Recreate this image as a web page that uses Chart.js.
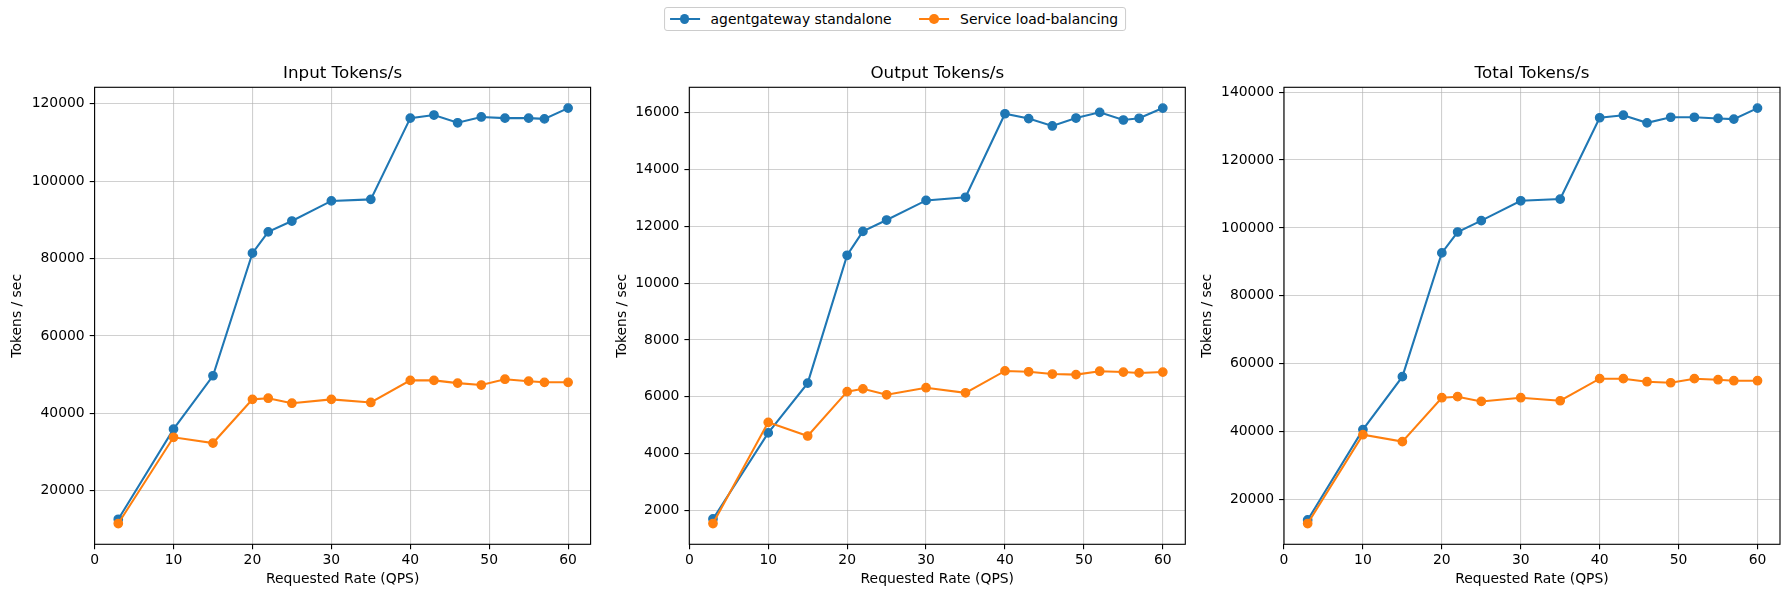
<!DOCTYPE html>
<html>
<head>
<meta charset="utf-8">
<title>Tokens/s vs requested rate</title>
<script src="https://cdn.jsdelivr.net/npm/chart.js@4.4.1/dist/chart.umd.min.js"></script>
<style>
    html, body { margin: 0; padding: 0; background: #fff; }
    #figure { position: relative; width: 1790px; height: 598px; overflow: hidden; }
    #figure canvas { position: absolute; left: 0; top: 0; }
    .legend {
        position: absolute; top: 7.3px; left: 50%; transform: translateX(-50%);
        height: 24px; box-sizing: border-box; padding: 0 6.8px 0 4.5px;
        border: 1px solid #cccccc; border-radius: 3px; background: #fff;
        display: flex; align-items: center; gap: 27.5px;
        font-family: "DejaVu Sans", sans-serif; font-size: 13.9px; color: #000;
        white-space: nowrap; z-index: 5;
    }
    .legend .item { display: flex; align-items: center; gap: 11px; }
    .legend .handle { position: relative; width: 30px; height: 10px; }
    .legend .handle::before {
        content: ''; position: absolute; left: 0; right: 0; top: 50%;
        height: 2.08px; margin-top: -1.04px; background: var(--c);
    }
    .legend .handle::after {
        content: ''; position: absolute; left: 50%; top: 50%;
        width: 9.7px; height: 9.7px; margin: -4.85px 0 0 -4.85px;
        border-radius: 50%; background: var(--c);
    }
</style>
</head>
<body>
<div id="figure">
    <div class="legend" id="legend"></div>
    <canvas id="inputChart" width="1790" height="598"></canvas>
    <canvas id="outputChart" width="1790" height="598"></canvas>
    <canvas id="totalChart" width="1790" height="598"></canvas>
</div>
<script>
// Data
const qps = [3, 10, 15, 20, 22, 25, 30, 35, 40, 43, 46, 49, 52, 55, 57, 60];
const seriesNames = ['agentgateway standalone', 'Service load-balancing'];

const inputStandalone = [12600, 35900, 49700, 81400, 86900, 89700, 94900, 95300, 116300, 117100, 115100, 116600, 116300, 116300, 116100, 118900];
const inputLoadBalanced = [11500, 33800, 32300, 43600, 43900, 42600, 43600, 42800, 48500, 48500, 47800, 47300, 48800, 48300, 48000, 48000];

const outputStandalone = [1700, 4730, 6480, 10980, 11820, 12220, 12910, 13020, 15960, 15790, 15530, 15810, 16010, 15740, 15800, 16160];
const outputLoadBalanced = [1540, 5100, 4620, 6180, 6280, 6070, 6320, 6140, 6910, 6880, 6800, 6780, 6900, 6870, 6840, 6870];

const totalStandalone = [14000, 40600, 56200, 92650, 98800, 102150, 108000, 108500, 132450, 133200, 130950, 132600, 132600, 132250, 132050, 135300];
const totalLoadBalanced = [12940, 39100, 37060, 50000, 50300, 48900, 50000, 49100, 55600, 55600, 54700, 54400, 55600, 55300, 55000, 55000];

const xTicks = [0, 10, 20, 30, 40, 50, 60];
const inputTicks = [20000, 40000, 60000, 80000, 100000, 120000];
const outputTicks = [2000, 4000, 6000, 8000, 10000, 12000, 14000, 16000];
const totalTicks = [20000, 40000, 60000, 80000, 100000, 120000, 140000];

const panelTitles = ['Input Tokens/s', 'Output Tokens/s', 'Total Tokens/s'];
const xLabel = 'Requested Rate (QPS)';
const yLabel = 'Tokens / sec';

// Styling / layout (matplotlib look)
const COLORS = ['#1f77b4', '#ff7f0e'];
const FIG_W = 1790, FIG_H = 598;
const PLOT_TOP = 87.3, PLOT_BOTTOM = 544.3, PLOT_W = 496;
const Y_AXIS_W = 90;
const GRID = 'rgba(176, 176, 176, 0.6)';
const TICK_FONT = { family: "'DejaVu Sans', sans-serif", size: 13.9 };
const TITLE_FONT = { family: "'DejaVu Sans', sans-serif", size: 16.7, weight: 'normal' };

Chart.defaults.font.family = "'DejaVu Sans', sans-serif";
Chart.defaults.color = '#000';

// matplotlib-like 5% auto margins
function paddedRange(values) {
    const lo = Math.min(...values), hi = Math.max(...values);
    const pad = (hi - lo) * 0.05;
    return { min: lo - pad, max: hi + pad };
}

const framePlugin = {
    id: 'frame',
    afterDraw(chart) {
        const { ctx, chartArea: a } = chart;
        ctx.save();
        ctx.strokeStyle = '#000';
        ctx.lineWidth = 1.11;
        ctx.strokeRect(a.left, a.top, a.right - a.left, a.bottom - a.top);
        ctx.restore();
    }
};

function buildLegend() {
    const legend = document.getElementById('legend');
    legend.innerHTML = seriesNames.map((name, i) =>
        `<span class="item"><span class="handle" style="--c:${COLORS[i]}"></span>${name}</span>`
    ).join('');
}

function makePanel(canvasId, title, standalone, loadBalanced, yTicks, plotLeft, yTitleGap) {
    const ctx = document.getElementById(canvasId).getContext('2d');
    const yRange = paddedRange(standalone.concat(loadBalanced));
    const xMax = Math.max(...qps) + (Math.max(...qps) - Math.min(...qps)) * 0.05;

    const dataset = (label, values, color, order) => ({
        label,
        data: qps.map((x, i) => ({ x, y: values[i] })),
        borderColor: color,
        backgroundColor: color,
        borderWidth: 2.08,
        pointRadius: 4.17,
        pointHoverRadius: 4.17,
        pointBorderWidth: 1.39,
        pointBackgroundColor: color,
        pointBorderColor: color,
        tension: 0,
        order
    });

    return new Chart(ctx, {
        type: 'line',
        data: {
            datasets: [
                dataset(seriesNames[0], standalone, COLORS[0], 2),
                dataset(seriesNames[1], loadBalanced, COLORS[1], 1)
            ]
        },
        options: {
            responsive: false,
            animation: false,
            events: [],
            layout: {
                padding: {
                    left: plotLeft - Y_AXIS_W,
                    right: FIG_W - (plotLeft + PLOT_W),
                    top: 63.2,
                    bottom: 0
                }
            },
            plugins: {
                legend: { display: false },
                tooltip: { enabled: false },
                title: {
                    display: true,
                    text: title,
                    fullSize: false,
                    color: '#000',
                    font: TITLE_FONT,
                    padding: { top: 0, bottom: 4.06 }
                }
            },
            scales: {
                x: {
                    type: 'linear',
                    min: 0,
                    max: xMax,
                    afterBuildTicks: s => { s.ticks = xTicks.map(v => ({ value: v })); },
                    afterFit: s => { s.height = FIG_H - PLOT_BOTTOM; },
                    border: { display: false },
                    grid: { color: GRID, lineWidth: 1.11, tickLength: 4.9, tickColor: '#000', tickWidth: 1.11 },
                    ticks: { color: '#000', font: TICK_FONT, padding: 2.66, autoSkip: false, maxRotation: 0, callback: v => String(v) },
                    title: { display: true, text: xLabel, color: '#000', font: TICK_FONT, padding: { top: 0, bottom: 10.2 } }
                },
                y: {
                    type: 'linear',
                    min: yRange.min,
                    max: yRange.max,
                    afterBuildTicks: s => { s.ticks = yTicks.map(v => ({ value: v })); },
                    afterFit: s => { s.width = Y_AXIS_W; },
                    border: { display: false },
                    grid: { color: GRID, lineWidth: 1.11, tickLength: 4.9, tickColor: '#000', tickWidth: 1.11 },
                    ticks: { color: '#000', font: TICK_FONT, padding: 5, autoSkip: false, callback: v => String(v) },
                    title: { display: true, text: yLabel, color: '#000', font: TICK_FONT, padding: { top: Y_AXIS_W - yTitleGap - 8.34, bottom: 0 } }
                }
            }
        },
        plugins: [framePlugin]
    });
}

buildLegend();
const charts = {
    input: makePanel('inputChart', panelTitles[0], inputStandalone, inputLoadBalanced, inputTicks, 94.6, 77),
    output: makePanel('outputChart', panelTitles[1], outputStandalone, outputLoadBalanced, outputTicks, 689.3, 67.4),
    total: makePanel('totalChart', panelTitles[2], totalStandalone, totalLoadBalanced, totalTicks, 1284, 77)
};
</script>
</body>
</html>
